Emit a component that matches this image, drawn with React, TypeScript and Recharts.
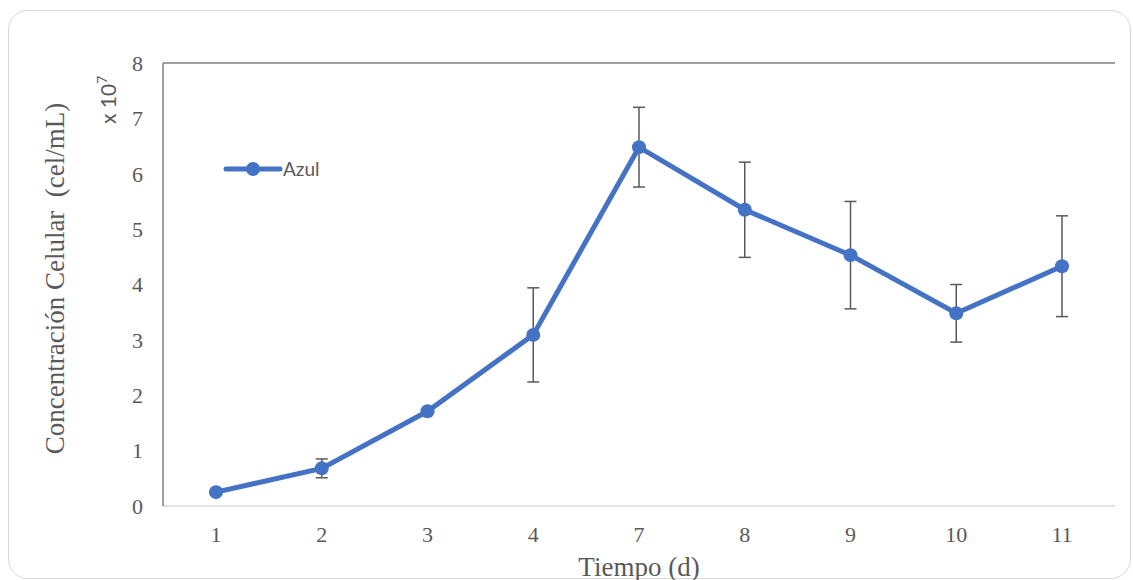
import React from 'react';
import { LineChart, Line, XAxis, YAxis, ErrorBar, ReferenceLine, Legend } from 'recharts';

// Días de muestreo (categorías del eje X)
const dias = ['1', '2', '3', '4', '7', '8', '9', '10', '11'];
// Concentración celular media (x 10^7 cel/mL)
const concentracion = [0.25, 0.68, 1.71, 3.09, 6.48, 5.35, 4.53, 3.48, 4.33];
// Desviación estándar de cada medición
const desviacion = [0.02, 0.17, 0.03, 0.85, 0.72, 0.86, 0.97, 0.52, 0.91];
// Marcas del eje Y
const yTicks = [0, 1, 2, 3, 4, 5, 6, 7, 8];

const data = dias.map((dia, i) => ({ dia, azul: concentracion[i], error: desviacion[i] }));

const AZUL = '#4472C4';
const TEXTO = '#595959';
const BORDE = '#808080';
const SERIF = '"Liberation Serif", "Times New Roman", serif';
const SANS = 'Lato, "Liberation Sans", sans-serif';

const W = 1133;
const H = 580;

const YTitle = (props: any) => {
  const vb = props.viewBox || { x: 0, y: 61, width: 163, height: 445 };
  const cy = vb.y + vb.height / 2 - 6;
  return (
    <g>
      <text
        transform={`translate(${vb.x + 64},${cy}) rotate(-90)`}
        textAnchor="middle"
        fontFamily={SERIF}
        fontSize={27}
        fill={TEXTO}
        style={{ whiteSpace: 'pre' }}
      >
        {'Concentración Celular  (cel/mL)'}
      </text>
      <text
        transform={`translate(${vb.x + 116},${vb.y + 61}) rotate(-90)`}
        textAnchor="start"
        fontFamily={SANS}
        fontSize={21}
        fill={TEXTO}
      >
        {'x 10'}
        <tspan fontSize={14} dy={-9}>7</tspan>
      </text>
    </g>
  );
};

const XTitle = (props: any) => {
  const vb = props.viewBox || { x: 163, y: 506, width: 952, height: 74 };
  return (
    <text
      x={vb.x + vb.width / 2}
      y={vb.y + 70}
      textAnchor="middle"
      fontFamily={SERIF}
      fontSize={27}
      fill={TEXTO}
    >
      Tiempo (d)
    </text>
  );
};

const LegendContent = () => (
  <div style={{ display: 'flex', alignItems: 'center', height: 16 }}>
    <svg width={60} height={16} style={{ display: 'block' }}>
      <line x1={3} y1={8} x2={57} y2={8} stroke={AZUL} strokeWidth={5} strokeLinecap="round" />
      <circle cx={30} cy={8} r={7} fill={AZUL} />
    </svg>
    <span style={{ fontFamily: SANS, fontSize: 19, color: TEXTO, lineHeight: '16px' }}>Azul</span>
  </div>
);

export default function App() {
  return (
    <div style={{ position: 'absolute', left: 0, top: 0, width: W, height: H, background: '#fff', overflow: 'hidden' }}>
      <div
        style={{
          position: 'absolute',
          left: 8,
          top: 10,
          width: 1121,
          height: 567,
          border: '1.5px solid #d9d9d9',
          borderRadius: 20,
        }}
      />
      <div style={{ position: 'absolute', left: 0, top: 0 }}>
        <LineChart width={W} height={H} data={data} margin={{ top: 47, right: 18, bottom: 0, left: 0 }}>
          <XAxis
            dataKey="dia"
            type="category"
            height={74}
            padding={{ left: 53, right: 53 }}
            tickLine={false}
            tickSize={0}
            tickMargin={20}
            axisLine={{ stroke: '#d9d9d9', strokeWidth: 1.5 }}
            tick={{ fontFamily: SERIF, fontSize: 22, fill: TEXTO }}
            label={<XTitle />}
          />
          <YAxis
            domain={[0, 8]}
            ticks={yTicks}
            width={163}
            tickLine={false}
            tickSize={0}
            tickMargin={20}
            axisLine={{ stroke: BORDE, strokeWidth: 1.5 }}
            tick={{ fontFamily: SERIF, fontSize: 22, fill: TEXTO }}
            label={<YTitle />}
          />
          <YAxis
            yAxisId="borde"
            orientation="right"
            domain={[0, 8]}
            width={0}
            tick={false}
            tickLine={false}
            axisLine={{ stroke: BORDE, strokeWidth: 1.5 }}
          />
          <ReferenceLine y={8} stroke={BORDE} strokeWidth={1.5} />
          <Legend
            verticalAlign="top"
            align="left"
            content={<LegendContent />}
            wrapperStyle={{ position: 'absolute', left: 223, top: 161, width: 'auto' }}
          />
          {/* barras de error debajo de la línea */}
          <Line
            dataKey="azul"
            stroke="none"
            dot={false}
            activeDot={false}
            legendType="none"
            isAnimationActive={false}
          >
            <ErrorBar dataKey="error" width={6} stroke="#595959" strokeWidth={1.5} direction="y" />
          </Line>
          <Line
            dataKey="azul"
            name="Azul"
            stroke={AZUL}
            strokeWidth={5}
            dot={{ r: 7, fill: AZUL, stroke: AZUL, strokeWidth: 0 }}
            activeDot={false}
            isAnimationActive={false}
          />
        </LineChart>
      </div>
    </div>
  );
}
